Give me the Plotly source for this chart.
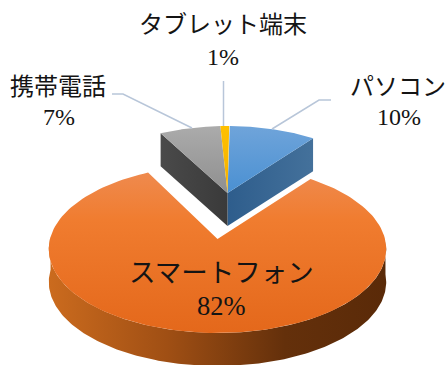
import numpy as np
import plotly.graph_objects as go

# Share of devices, in percent, clockwise from twelve o'clock
categories = ["パソコン", "スマートフォン", "携帯電話", "タブレット端末"]
values = [10, 82, 7, 1]
percent_labels = ["10%", "82%", "7%", "1%"]

top_colors = [
    [[0, "#6FA4DA"], [1, "#4A90D2"]],
    [[0, "#EF8A4E"], [0.3, "#F07C2F"], [1, "#E4681B"]],
    [[0, "#ABABAB"], [1, "#8F8F8F"]],
    [[0, "#FFC000"], [1, "#F5B000"]],
]

WIDTH, HEIGHT = 446, 365
DEPTH = 33
PERSPECTIVE = 0.12

# Pie placement: the large slice sits apart from the three small ones
LARGE = dict(ax=217.5, ay=239, f=167.5, g=82.7, turn=1.5)
SMALL = dict(ax=227.5, ay=193, f=157, g=75.0, turn=0.7)

FONT = "Liberation Serif, Noto Sans CJK JP, serif"
TEXT_COLOR = "#141414"
LEADER = "#B8C6D9"


def project(theta_deg, radius, ax, ay, f, g, turn):
    t = np.radians(np.asarray(theta_deg, dtype=float) + turn)
    x_plane, y_plane = radius * np.sin(t), radius * np.cos(t)
    w = 1 + PERSPECTIVE * y_plane
    return ax + f * x_plane / w, ay - g * y_plane / w


def wedge(start, end, place):
    th = np.linspace(start, end, 160)
    x, y = project(th, 1.0, **place)
    return (
        np.concatenate([[place["ax"]], x, [place["ax"]]]),
        np.concatenate([[place["ay"]], y, [place["ay"]]]),
    )


def polygon(x, y, grad):
    return go.Scatter(
        x=x, y=y, mode="lines", fill="toself", fillgradient=grad,
        line=dict(width=0), hoverinfo="skip", showlegend=False,
    )


def side_face(theta, place, c0, c1):
    x, y = project([theta], 1.0, **place)
    ax, ay = place["ax"], place["ay"]
    px = [ax, x[0], x[0], ax, ax]
    py = [ay, y[0], y[0] + DEPTH, ay + DEPTH, ay]
    return polygon(px, py, dict(
        type="horizontal", colorscale=[[0, c0], [1, c1]],
        start=min(ax, x[0]), stop=max(ax, x[0]),
    ))


edges = np.cumsum([0] + values) * 3.6

fig = go.Figure()

# Rim of the large slice, only the part facing the viewer
th = np.linspace(90, 270, 200)
rx, ry = project(th, 1.0, **LARGE)
fig.add_trace(polygon(
    np.concatenate([rx, rx[::-1]]),
    np.concatenate([ry, ry[::-1] + DEPTH]),
    dict(type="horizontal",
         colorscale=[[0, "#CB6B1E"], [0.35, "#A04F14"], [0.7, "#64300B"], [1, "#5A2A08"]],
         start=rx.min(), stop=rx.max()),
))

# Cut faces of the small slices
fig.add_trace(side_face(edges[1], SMALL, "#2E5D8C", "#44719B"))
fig.add_trace(side_face(edges[2], SMALL, "#4A4A4A", "#3A3A3A"))

# Top faces
for i, scale in enumerate(top_colors):
    place = LARGE if i == 1 else SMALL
    x, y = wedge(edges[i], edges[i + 1], place)
    fig.add_trace(polygon(x, y, dict(
        type="vertical", colorscale=scale, start=y.min(), stop=y.max(),
    )))

# Leader lines
for lx, ly in [
    ([272, 319, 331], [129, 100, 100]),
    ([192, 123, 112], [128, 94, 94]),
    ([223.5, 223.5], [126, 81]),
]:
    fig.add_trace(go.Scatter(
        x=lx, y=ly, mode="lines", line=dict(color=LEADER, width=1.5),
        hoverinfo="skip", showlegend=False,
    ))

# Name and percentage for each slice, the large slice in bigger type
label_centres = [(398, 87, 399, 117), (221, 273, 221, 306), (58, 87, 59, 117), (223, 25, 223, 57)]
label_sizes = [24, 26.5, 24, 24]
for name, pct, (nx, ny, px, py), size in zip(categories, percent_labels, label_centres, label_sizes):
    for text, tx, ty in ((name, nx, ny), (pct, px, py)):
        fig.add_annotation(
            x=tx, y=ty, text=text, showarrow=False, xanchor="center", yanchor="middle",
            font=dict(family=FONT, size=size, color=TEXT_COLOR),
        )

fig.update_layout(
    width=WIDTH, height=HEIGHT, margin=dict(l=0, r=0, t=0, b=0),
    paper_bgcolor="white", plot_bgcolor="white", showlegend=False,
    xaxis=dict(range=[0, WIDTH], visible=False, fixedrange=True),
    yaxis=dict(range=[HEIGHT, 0], visible=False, fixedrange=True),
)

fig.write_html("out.html", config=dict(displayModeBar=False))
